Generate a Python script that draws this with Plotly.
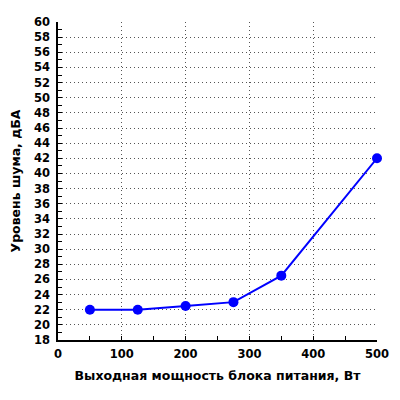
import plotly.graph_objects as go

power_w = [50, 125, 200, 275, 350, 500]
noise_dba = [22, 22, 22.5, 23, 26.5, 42]

x_title = 'Выходная мощность блока питания, Вт'
y_title = 'Уровень шума, дБА'

font_bold = dict(family='DejaVu Sans', size=11.5, color='black', weight='bold')
title_font = dict(family='DejaVu Sans', size=12.5, color='black', weight='bold')

fig = go.Figure()
fig.add_trace(go.Scatter(x=power_w, y=noise_dba, mode='lines+markers',
    line=dict(color='#0000ff', width=2),
    marker=dict(color='#0000ff', size=10),
    cliponaxis=False, showlegend=False))

axis_common = dict(showline=True, linecolor='black', linewidth=1.5,
    ticks='inside', ticklen=4, tickcolor='black',
    showgrid=True, gridcolor='#555555', griddash='1px,3px', gridwidth=1,
    zeroline=False, tickfont=font_bold, automargin=False)

fig.update_xaxes(range=[0, 500], dtick=100, tick0=0,
    minor=dict(ticks='inside', dtick=50, ticklen=4, tickcolor='black', showgrid=False),
    title=dict(text=x_title, font=title_font, standoff=12),
    ticklabelstandoff=2,
    **axis_common)
fig.update_yaxes(range=[18, 60], dtick=2, tick0=18,
    minor=dict(ticks='inside', dtick=1, ticklen=4, tickcolor='black', showgrid=False),
    title=dict(text=y_title, font=title_font, standoff=12),
    ticklabelstandoff=4,
    **axis_common)

# page body has an 8px margin, so the figure is shrunk by that much
fig.update_layout(width=392, height=392,
    margin=dict(l=50, r=23, t=14, b=60),
    plot_bgcolor='white', paper_bgcolor='white')

fig.write_html('out.html')
